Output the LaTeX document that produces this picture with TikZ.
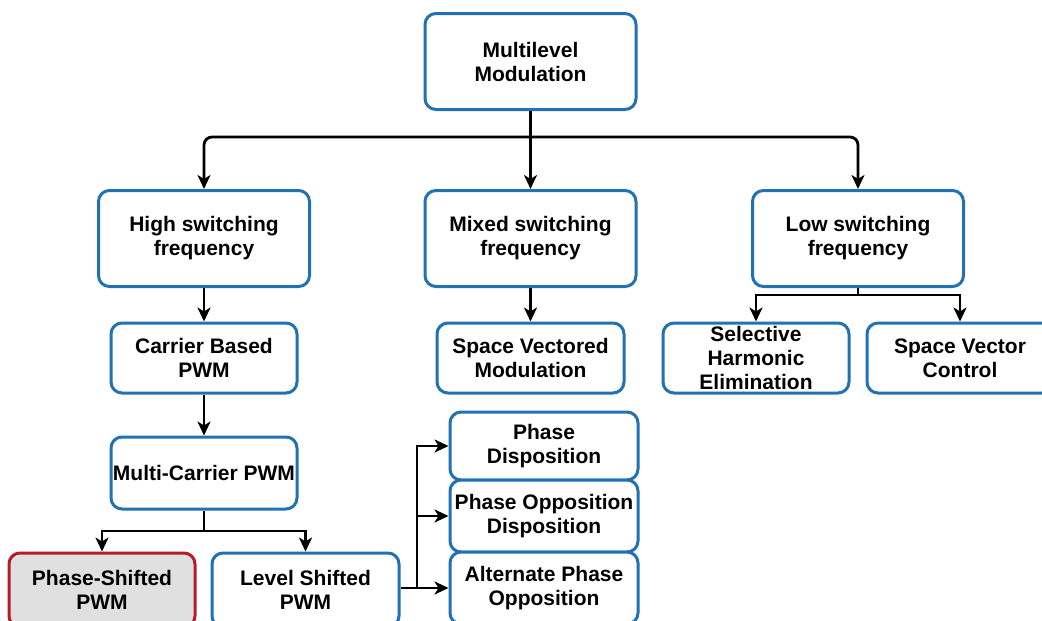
\documentclass[tikz,border=0pt]{standalone}
\usepackage{fontspec}
\setmainfont{Liberation Sans}
\usetikzlibrary{arrows.meta}
\definecolor{boxblue}{RGB}{33,113,181}
\definecolor{boxred}{RGB}{180,30,40}
\definecolor{boxgray}{RGB}{224,224,224}
\tikzset{
  box/.style={draw=boxblue, line width=3pt, rounded corners=11pt, fill=white,
    align=center, inner sep=1pt, font=\bfseries\fontsize{21}{24}\selectfont},
  bigbox/.style={box, minimum width=211pt, minimum height=96pt},
  smallbox/.style={box, minimum width=186pt, minimum height=70pt},
  hibox/.style={smallbox, draw=boxred, fill=boxgray},
  arr/.style={draw=black, line width=2.8pt, -{Stealth[length=14pt,width=13pt,inset=4pt]}},
  ln/.style={draw=black, line width=2.8pt}
}
\begin{document}
\begin{tikzpicture}[x=1pt,y=-1pt]
\useasboundingbox (0,0) rectangle (1042,621);
\fill[white] (0,0) rectangle (1042,621);
\begin{scope}
\clip (0,0) rectangle (1042,621);
\node[bigbox] (mm) at (530.5,61.5) {Multilevel\\Modulation};
\node[bigbox] (hi) at (204,238.5) {High switching\\frequency};
\node[bigbox] (mx) at (530.5,238.5) {Mixed switching\\frequency};
\node[bigbox] (lo) at (858,238.5) {Low switching\\frequency};
\node[smallbox] (cb) at (204,358) {Carrier Based\\PWM};
\node[smallbox, minimum width=187pt] (svm) at (530.5,358) {Space Vectored\\Modulation};
\node[smallbox] (she) at (756,358) {Selective\\Harmonic\\Elimination};
\node[smallbox] (svc) at (960,358) {Space Vector\\Control};
\node[smallbox, minimum height=72pt] (mc) at (204,473) {Multi-Carrier PWM};
\node[hibox, minimum height=74pt] (ps) at (102,590) {Phase-Shifted\\PWM};
\node[smallbox, minimum width=187pt, minimum height=74pt] (ls) at (305.5,590) {Level Shifted\\PWM};
\node[smallbox, minimum width=188pt, minimum height=68pt] (pd) at (544,446) {Phase\\Disposition};
\node[smallbox, minimum width=188pt, minimum height=72pt] (pod) at (544,516) {Phase Opposition\\Disposition};
\node[smallbox, minimum width=188pt, minimum height=72pt] (apo) at (544,588) {Alternate Phase\\Opposition};

\coordinate (j1) at (530.5,137);
\coordinate (j2) at (858,295);
\coordinate (j3) at (204,531);
\coordinate (j4) at (417,588);

\draw[arr] (mm.south) -- (mx.north);
\draw[arr, rounded corners=8pt] (j1) -| (hi.north);
\draw[arr, rounded corners=8pt] (j1) -| (lo.north);
\draw[arr] (hi.south) -- (cb.north);
\draw[arr] (mx.south) -- (svm.north);
\draw[ln] (lo.south) -- (j2);
\draw[arr] (j2) -| (she.north);
\draw[arr] (j2) -| (svc.north);
\draw[arr] (cb.south) -- (mc.north);
\draw[ln] (mc.south) -- (j3);
\draw[arr] (j3) -| (ps.north);
\draw[arr] (j3) -| (ls.north);
\draw[ln] (ls.east |- j4) -- (j4);
\draw[arr] (j4) |- (pd.west);
\draw[arr] (j4) |- (pod.west);
\draw[arr] (j4) -- (apo.west);
\end{scope}
\end{tikzpicture}
\end{document}
